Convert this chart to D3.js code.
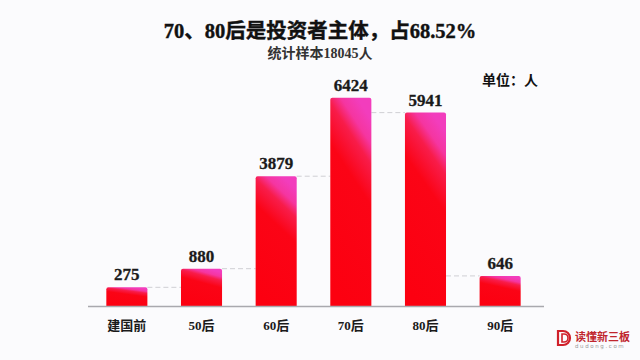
<!DOCTYPE html>
<html><head><meta charset="utf-8">
<script src="https://cdn.jsdelivr.net/npm/d3@7"></script>
<style>
html,body{margin:0;padding:0;background:#fbfbfd;}
svg{display:block;}
text{font-family:"Liberation Serif","Noto Sans CJK SC",serif;font-weight:bold;}
</style></head>
<body>
<svg id="c" width="640" height="360"></svg>
<script>
const categories = ["建国前","50后","60后","70后","80后","90后"];
const values = [275, 880, 3879, 6424, 5941, 646];
const title = "70、80后是投资者主体，占68.52%";
const subtitle = "统计样本18045人";
const unitLabel = "单位：人";

const svg = d3.select("#c");
svg.append("rect").attr("width",640).attr("height",360).attr("fill","#fbfbfd");

const defs = svg.append("defs");
const g = defs.append("linearGradient").attr("id","barGrad")
  .attr("x1",0.35).attr("y1",1).attr("x2",0.65).attr("y2",0);
[[0,"#fc0010"],[0.62,"#fb0416"],[0.8,"#f81c4a"],[0.89,"#f535a0"],[1,"#f23dbd"]]
  .forEach(([o,c])=>g.append("stop").attr("offset",o).attr("stop-color",c));

const x = d3.scaleBand().domain(categories).range([69, 558]).paddingInner(0.45).paddingOuter(0.5);
const y = d3.scaleLinear().domain([-330, 6480]).range([306, 96]);
const base = 306;

// dashed connectors
for (let i = 0; i < values.length - 1; i++) {
  const lv = Math.min(values[i], values[i+1]);
  svg.append("line")
    .attr("x1", x(categories[i]) + x.bandwidth())
    .attr("x2", x(categories[i+1]))
    .attr("y1", y(lv)).attr("y2", y(lv))
    .attr("stroke","#cfcfd4").attr("stroke-width",1).attr("stroke-dasharray","5,3");
}

// bars
svg.selectAll("path.bar").data(values).enter().append("path")
  .attr("class","bar")
  .attr("fill","url(#barGrad)")
  .attr("d",(d,i)=>{
    const x0 = x(categories[i]), w = x.bandwidth(), t = y(d), r = 2;
    return `M${x0},${base}V${t+r}Q${x0},${t} ${x0+r},${t}H${x0+w-r}Q${x0+w},${t} ${x0+w},${t+r}V${base}Z`;
  });

// value labels
svg.selectAll("text.val").data(values).enter().append("text")
  .attr("class","val")
  .attr("x",(d,i)=>x(categories[i]) + x.bandwidth()/2)
  .attr("y",d=>y(d)-7)
  .attr("text-anchor","middle")
  .attr("font-size",17).attr("fill","#1a1a1a")
  .attr("stroke","#1a1a1a").attr("stroke-width",0.3)
  .text(d=>d);

// axis
const axis = d3.axisBottom(x).tickSize(0).tickPadding(15);
const ax = svg.append("g").attr("transform",`translate(0,${base})`).call(axis);
ax.select(".domain").remove();
ax.selectAll("text").attr("font-size",13).attr("fill","#1a1a1a")
  .style("font-family",'"Liberation Serif","Noto Sans CJK SC",serif').style("font-weight","bold");
svg.append("line").attr("x1",88).attr("x2",544).attr("y1",base+0.5).attr("y2",base+0.5)
  .attr("stroke","#a9a9ae").attr("stroke-width",1.5);

// titles
svg.append("text").attr("x",320).attr("y",38).attr("text-anchor","middle")
  .attr("font-size",20.5).attr("fill","#111").attr("stroke","#111").attr("stroke-width",0.4).text(title);
svg.append("text").attr("x",320).attr("y",58).attr("text-anchor","middle")
  .attr("font-size",14).attr("fill","#333").text(subtitle);
svg.append("text").attr("x",482).attr("y",85)
  .attr("font-size",14).attr("fill","#111").text(unitLabel);

// logo
const lg = svg.append("g").attr("transform","translate(557,331)");
lg.append("path").attr("d","M1,0H6A7,7 0 0 1 6,14H1Z").attr("fill","none").attr("stroke","#d0202a").attr("stroke-width",2.2);
lg.append("path").attr("d","M5,3H7A4,4 0 0 1 7,11H5Z").attr("fill","none").attr("stroke","#d0202a").attr("stroke-width",1.6);
lg.append("text").attr("x",18).attr("y",10).attr("font-size",11).attr("fill","#c0262d")
  .style("font-family","'Noto Sans CJK SC'").text("读懂新三板");
lg.append("text").attr("x",18).attr("y",17).attr("font-size",5.5).attr("fill","#999")
  .attr("letter-spacing",1.6).style("font-family","'DejaVu Sans'").style("font-weight","normal").text("dudong.com");
</script>
</body></html>
